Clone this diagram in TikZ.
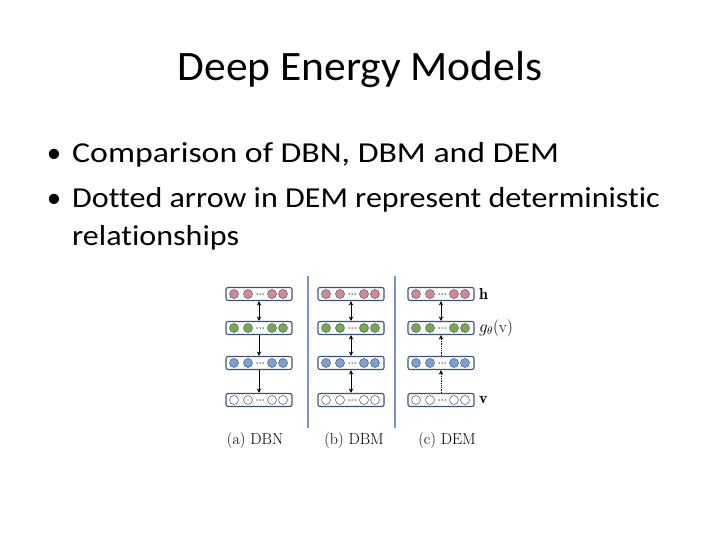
\documentclass[tikz,border=0pt]{standalone}
\usepackage{fontspec}
\usepackage{amsmath}
\newfontfamily\slidefont[Ligatures=NoCommon]{Carlito}
\usetikzlibrary{calc,positioning,arrows.meta}

\definecolor{unitred}{RGB}{212,136,150}
\definecolor{unitgreen}{RGB}{118,170,68}
\definecolor{unitblue}{RGB}{122,160,212}
\definecolor{boxline}{RGB}{60,84,112}
\definecolor{sepline}{RGB}{120,152,194}

\tikzset{
  layer/.style={draw=boxline,line width=1.1bp,rounded corners=2bp,fill=white,
    minimum width=66bp,minimum height=13bp,inner sep=0pt},
  unit/.style={circle,draw=boxline!85,line width=0.6bp,minimum size=9bp,inner sep=0pt},
  link/.style={{Stealth[length=4.5bp,width=4.5bp]}-{Stealth[length=4.5bp,width=4.5bp]},line width=0.8bp},
  down/.style={-{Stealth[length=4.5bp,width=4.5bp]},line width=0.8bp},
  detlink/.style={-{Stealth[length=4.5bp,width=4.5bp]},line width=0.8bp,densely dotted},
  caption/.style={font=\fontsize{16}{18}\selectfont},
  bodytext/.style={font=\slidefont\fontsize{29}{34}\selectfont,inner sep=0pt},
}

% one layer: name, centre x, centre y, fill colour of the units
\newcommand{\layerrow}[4]{%
  \node[layer] (#1) at (#2,#3) {};
  \foreach \dx in {-25,-11,13,24}
    \node[unit,fill=#4] at ($(#1.center)+(\dx,0)$) {};
  \foreach \dx in {-2,1,4}
    \fill[black!80] ($(#1.center)+(\dx,0)$) circle (0.75bp);
}

\begin{document}
\begin{tikzpicture}[x=1bp,y=-1bp]
  \useasboundingbox (0,0) rectangle (720,540);

  % slide text
  \node[font=\slidefont\fontsize{42}{48}\selectfont,anchor=base] (title) at (360,81) {\scalebox{1.04}[1]{Deep Energy Models}};
  \node[bodytext,anchor=base west] (b1) at (72,163) {\scalebox{1.17}[1]{Comparison of DBN, DBM and DEM}};
  \node[bodytext,anchor=base] at (54,163) {\textbullet};
  \node[bodytext,anchor=base west] (b2) at (72,208) {\scalebox{1.11}[1]{Dotted arrow in DEM represent deterministic}};
  \node[bodytext,anchor=base] at (54,208) {\textbullet};
  \node[bodytext,anchor=base west] (b3) at (72,246) {\scalebox{1.11}[1]{relationships}};

  % separators
  \draw[sepline,line width=2bp] (308,276) coordinate (s1top) -- (308,428) coordinate (s1bot);
  \draw[sepline,line width=2bp] (395,276) coordinate (s2top) -- (395,428) coordinate (s2bot);

  % (a) DBN
  \layerrow{dbnh}{259}{294}{unitred}
  \layerrow{dbng}{259}{328}{unitgreen}
  \layerrow{dbnb}{259}{363}{unitblue}
  \layerrow{dbnv}{259}{400}{white}
  \draw[link] (dbnh) -- (dbng);
  \draw[down] (dbng) -- (dbnb);
  \draw[down] (dbnb) -- (dbnv);

  % (b) DBM
  \layerrow{dbmh}{351}{294}{unitred}
  \layerrow{dbmg}{351}{328}{unitgreen}
  \layerrow{dbmb}{351}{363}{unitblue}
  \layerrow{dbmv}{351}{400}{white}
  \draw[link] (dbmh) -- (dbmg);
  \draw[link] (dbmg) -- (dbmb);
  \draw[link] (dbmb) -- (dbmv);

  % (c) DEM
  \layerrow{demh}{441}{294}{unitred}
  \layerrow{demg}{441}{328}{unitgreen}
  \layerrow{demb}{441}{363}{unitblue}
  \layerrow{demv}{441}{400}{white}
  \draw[link] (demh) -- (demg);
  \draw[detlink] (demb) -- (demg);
  \draw[detlink] (demv) -- (demb);
  \node[caption,right=1bp of demh] (hlab) {$\mathbf{h}$};
  \node[caption,right=1bp of demg] (glab) {$g_\theta(\mathrm{v})$};
  \node[caption,right=1bp of demv] (vlab) {$\mathbf{v}$};

  % captions
  \node[caption,anchor=base] (capa) at (255,444) {(a) DBN};
  \node[caption,anchor=base] (capb) at (354,444) {(b) DBM};
  \node[caption,anchor=base] (capc) at (447,444) {(c) DEM};
\end{tikzpicture}
\end{document}
